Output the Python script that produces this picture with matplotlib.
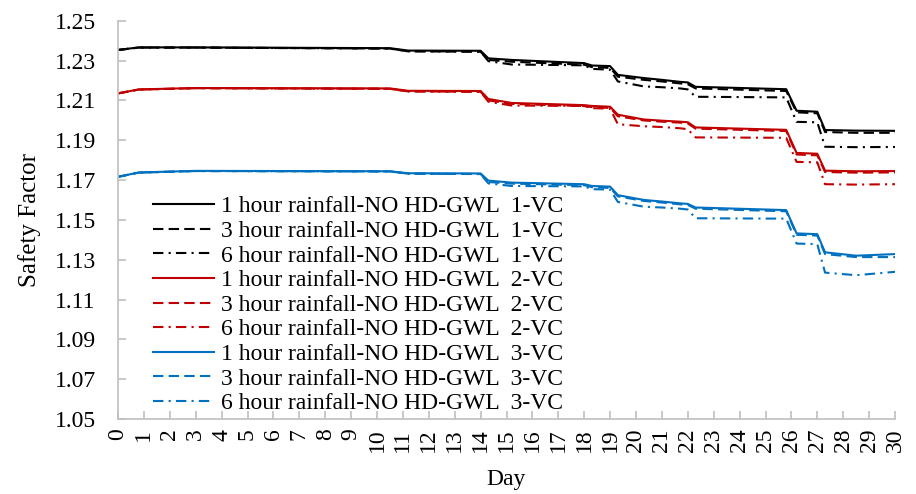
"""Safety factor versus day for three rainfall durations and three VC cases."""

import matplotlib
matplotlib.use("Agg")
import matplotlib.pyplot as plt

plt.rcParams["font.family"] = ["Liberation Serif", "DejaVu Serif"]

# --- Data ---
days = [0, 0.8, 3, 10.5, 11.2, 14.0, 14.3, 15.2, 18.0, 18.3, 19.0, 19.3,
        20.3, 21.0, 21.7, 22.0, 22.3, 25.8, 26.2, 27.0, 27.3, 28.5, 30]

vc1_1h = [1.2353, 1.2366, 1.2366, 1.2362, 1.2350, 1.2349, 1.2311, 1.2303,
          1.2287, 1.2275, 1.2272, 1.2228, 1.2212, 1.2203, 1.2193, 1.2190,
          1.2168, 1.2156, 1.2048, 1.2043, 1.1951, 1.1948, 1.1947]
vc1_3h = [1.2353, 1.2365, 1.2365, 1.2360, 1.2346, 1.2344, 1.2303, 1.2294,
          1.2279, 1.2267, 1.2263, 1.2219, 1.2203, 1.2195, 1.2185, 1.2181,
          1.2160, 1.2147, 1.2040, 1.2035, 1.1941, 1.1937, 1.1937]
vc1_6h = [1.2353, 1.2365, 1.2365, 1.2360, 1.2347, 1.2345, 1.2297, 1.2280,
          1.2276, 1.2258, 1.2254, 1.2195, 1.2170, 1.2166, 1.2160, 1.2155,
          1.2118, 1.2115, 1.1992, 1.1990, 1.1867, 1.1865, 1.1866]

vc2_1h = [1.2135, 1.2155, 1.2162, 1.2160, 1.2148, 1.2147, 1.2107, 1.2087,
          1.2076, 1.2072, 1.2068, 1.2028, 1.2004, 1.1998, 1.1993, 1.1990,
          1.1964, 1.1952, 1.1836, 1.1832, 1.1747, 1.1744, 1.1745]
vc2_3h = [1.2135, 1.2154, 1.2161, 1.2158, 1.2145, 1.2143, 1.2100, 1.2082,
          1.2071, 1.2066, 1.2062, 1.2020, 1.1999, 1.1993, 1.1988, 1.1984,
          1.1958, 1.1946, 1.1828, 1.1824, 1.1740, 1.1737, 1.1738]
vc2_6h = [1.2135, 1.2154, 1.2161, 1.2158, 1.2145, 1.2143, 1.2093, 1.2074,
          1.2072, 1.2061, 1.2058, 1.1980, 1.1970, 1.1966, 1.1960, 1.1955,
          1.1914, 1.1912, 1.1791, 1.1789, 1.1679, 1.1677, 1.1679]

vc3_1h = [1.1716, 1.1738, 1.1746, 1.1744, 1.1734, 1.1733, 1.1697, 1.1687,
          1.1679, 1.1670, 1.1667, 1.1624, 1.1600, 1.1592, 1.1583, 1.1580,
          1.1562, 1.1549, 1.1432, 1.1428, 1.1337, 1.1320, 1.1328]
vc3_3h = [1.1716, 1.1737, 1.1745, 1.1743, 1.1732, 1.1730, 1.1690, 1.1682,
          1.1674, 1.1664, 1.1660, 1.1618, 1.1595, 1.1587, 1.1578, 1.1575,
          1.1556, 1.1543, 1.1425, 1.1421, 1.1328, 1.1313, 1.1313]
vc3_6h = [1.1716, 1.1737, 1.1745, 1.1743, 1.1732, 1.1730, 1.1683, 1.1670,
          1.1668, 1.1654, 1.1652, 1.1590, 1.1566, 1.1562, 1.1556, 1.1552,
          1.1508, 1.1506, 1.1381, 1.1378, 1.1235, 1.1222, 1.1239]

durations = ["1 hour", "3 hour", "6 hour"]
vc_labels = ["1-VC", "2-VC", "3-VC"]
series = [[vc1_1h, vc1_3h, vc1_6h],
          [vc2_1h, vc2_3h, vc2_6h],
          [vc3_1h, vc3_3h, vc3_6h]]

y_ticks = [1.05, 1.07, 1.09, 1.11, 1.13, 1.15, 1.17, 1.19, 1.21, 1.23, 1.25]
x_ticks = list(range(0, 31))

# --- Styling ---
colours = ["#000000", "#C00000", "#0070C0"]
dash_styles = ["-", (0, (5, 2.5)), (0, (5, 2.5, 1, 2.5))]
axis_grey = "#BFBFBF"
FS = 17

fig = plt.figure(figsize=(9.16, 4.94), dpi=100)
ax = fig.add_axes([118 / 916, 1 - 419 / 494, 777 / 916, 398.3 / 494])

for colour, vc, group in zip(colours, vc_labels, series):
    for dur, ls, vals in zip(durations, dash_styles, group):
        ax.plot(days, vals, color=colour, linestyle=ls, linewidth=1.5,
                label=f"{dur} rainfall-NO HD-GWL  {vc}")

ax.set_xlim(0, 30)
ax.set_ylim(1.05, 1.25)
ax.set_xticks(x_ticks)
ax.set_xticklabels([str(t) for t in x_ticks], rotation=90, fontsize=FS)
ax.set_yticks(y_ticks)
ax.set_yticklabels([f"{t:.2f}" for t in y_ticks], fontsize=FS)

for side in ("top", "right"):
    ax.spines[side].set_visible(False)
for side in ("left", "bottom"):
    ax.spines[side].set_color(axis_grey)
    ax.spines[side].set_linewidth(1.2)
ax.tick_params(axis="both", direction="in", length=6, width=1.2,
               color=axis_grey, labelcolor="black")
ax.tick_params(axis="x", pad=7)
ax.tick_params(axis="y", pad=16)

ax.set_xlabel("Day", fontsize=FS, labelpad=12)
ax.set_ylabel("Safety Factor", fontsize=FS + 1, labelpad=10)

ax.legend(loc="lower left", bbox_to_anchor=(0.045, 0.012), frameon=False,
          fontsize=FS, handlelength=2.6, handletextpad=0.3,
          labelspacing=0.13, borderpad=0, borderaxespad=0)

fig.savefig("out.png", dpi=100)
